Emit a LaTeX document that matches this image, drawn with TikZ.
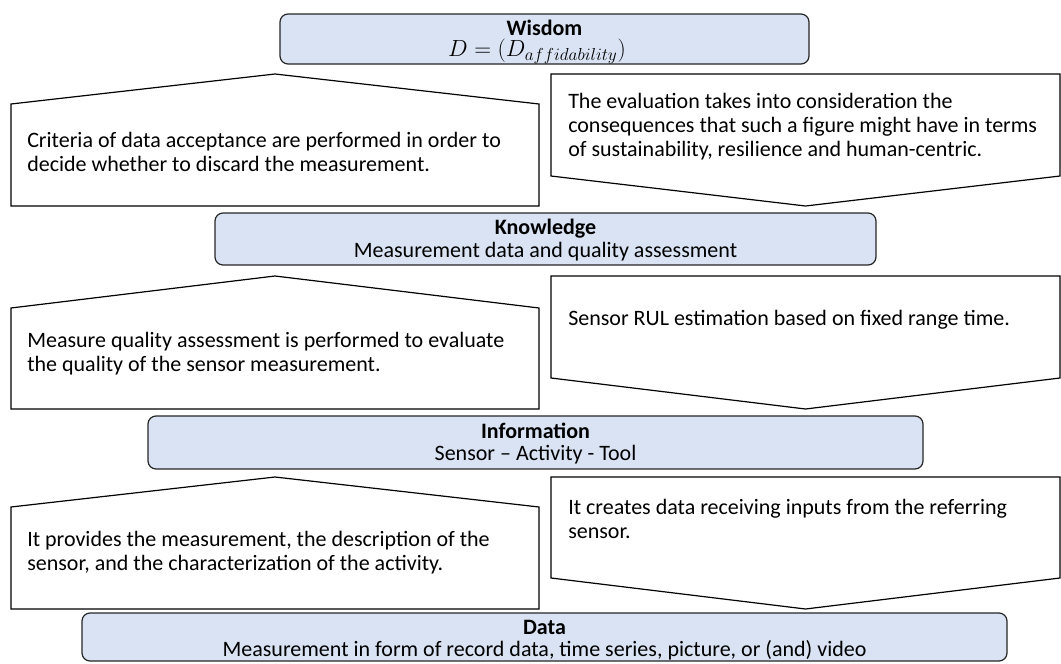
\RequirePackage{fix-cm}
\documentclass[tikz,border=0pt]{standalone}
\usepackage{fontspec}
\setmainfont{Carlito}
\DeclareMathSizes{17.5}{17.5}{13}{10}
\begin{document}
\begin{tikzpicture}[x=0.75pt,y=-0.75pt,
  every node/.style={inner sep=0pt,font=\fontsize{16.5}{18}\selectfont},
  levelbox/.style={draw=black!85,fill=lvlblue,line width=0.9pt,rounded corners=6pt},
  arrowshape/.style={draw=black,fill=white,line width=0.9pt},
  leveltext/.style={align=center,font=\fontsize{16.5}{17}\selectfont},
  notetext/.style={anchor=west,align=left}]
\definecolor{lvlblue}{HTML}{DAE3F3}
\useasboundingbox (0,0) rectangle (1061,664);

% level boxes
\draw[levelbox] (280,14) rectangle (809,64);
\node[leveltext] (wisdom) at (544.5,28) {\textbf{Wisdom}};
\node (wisdomformula) at (537,51) {\fontsize{17.5}{18}\selectfont $D = (D_{affidability})$};

\draw[levelbox] (215,213) rectangle (876,265);
\node[leveltext] (knowledge) at (545.5,240) {\textbf{Knowledge}\\ Measurement data and quality assessment};

\draw[levelbox] (148,416) rectangle (923,469);
\node[leveltext] (information) at (535.5,443.5) {\textbf{Information}\\ Sensor -- Activity - Tool};

\draw[levelbox] (82,613) rectangle (1007,661);
\node[leveltext] (data) at (544.5,640) {\textbf{Data}\\ Measurement in form of record data, time series, picture, or (and) video};

% upward arrows (left column)
\draw[arrowshape] (11,104) -- (275,74) -- (539,104) -- (539,206) -- (11,206) -- cycle;
\draw[arrowshape] (11,308) -- (275,276) -- (539,308) -- (539,409) -- (11,409) -- cycle;
\draw[arrowshape] (11,507) -- (275,477) -- (539,507) -- (539,609) -- (11,609) -- cycle;

% downward arrows (right column)
\draw[arrowshape] (551,74) -- (1060,74) -- (1060,176) -- (805.5,206) -- (551,176) -- cycle;
\draw[arrowshape] (551,276) -- (1060,276) -- (1060,378) -- (805.5,409) -- (551,378) -- cycle;
\draw[arrowshape] (551,477) -- (1060,477) -- (1060,578) -- (805.5,609) -- (551,578) -- cycle;

% arrow texts
\node[notetext] (up1) at (27,151.5) {Criteria of data acceptance are performed in order to\\ decide whether to discard the measurement.};
\node[notetext] (down1) at (568,127) {The evaluation takes into consideration the\\ consequences that such a figure might have in terms\\ of sustainability, resilience and human-centric.};
\node[notetext] (up2) at (27,353.5) {Measure quality assessment is performed to evaluate\\ the quality of the sensor measurement.};
\node[notetext] (down2) at (568,320) {Sensor RUL estimation based on fixed range time.};
\node[notetext] (up3) at (27,553) {It provides the measurement, the description of the\\ sensor, and the characterization of the activity.};
\node[notetext] (down3) at (568,518.5) {It creates data receiving inputs from the referring\\ sensor.};
\end{tikzpicture}
\end{document}
